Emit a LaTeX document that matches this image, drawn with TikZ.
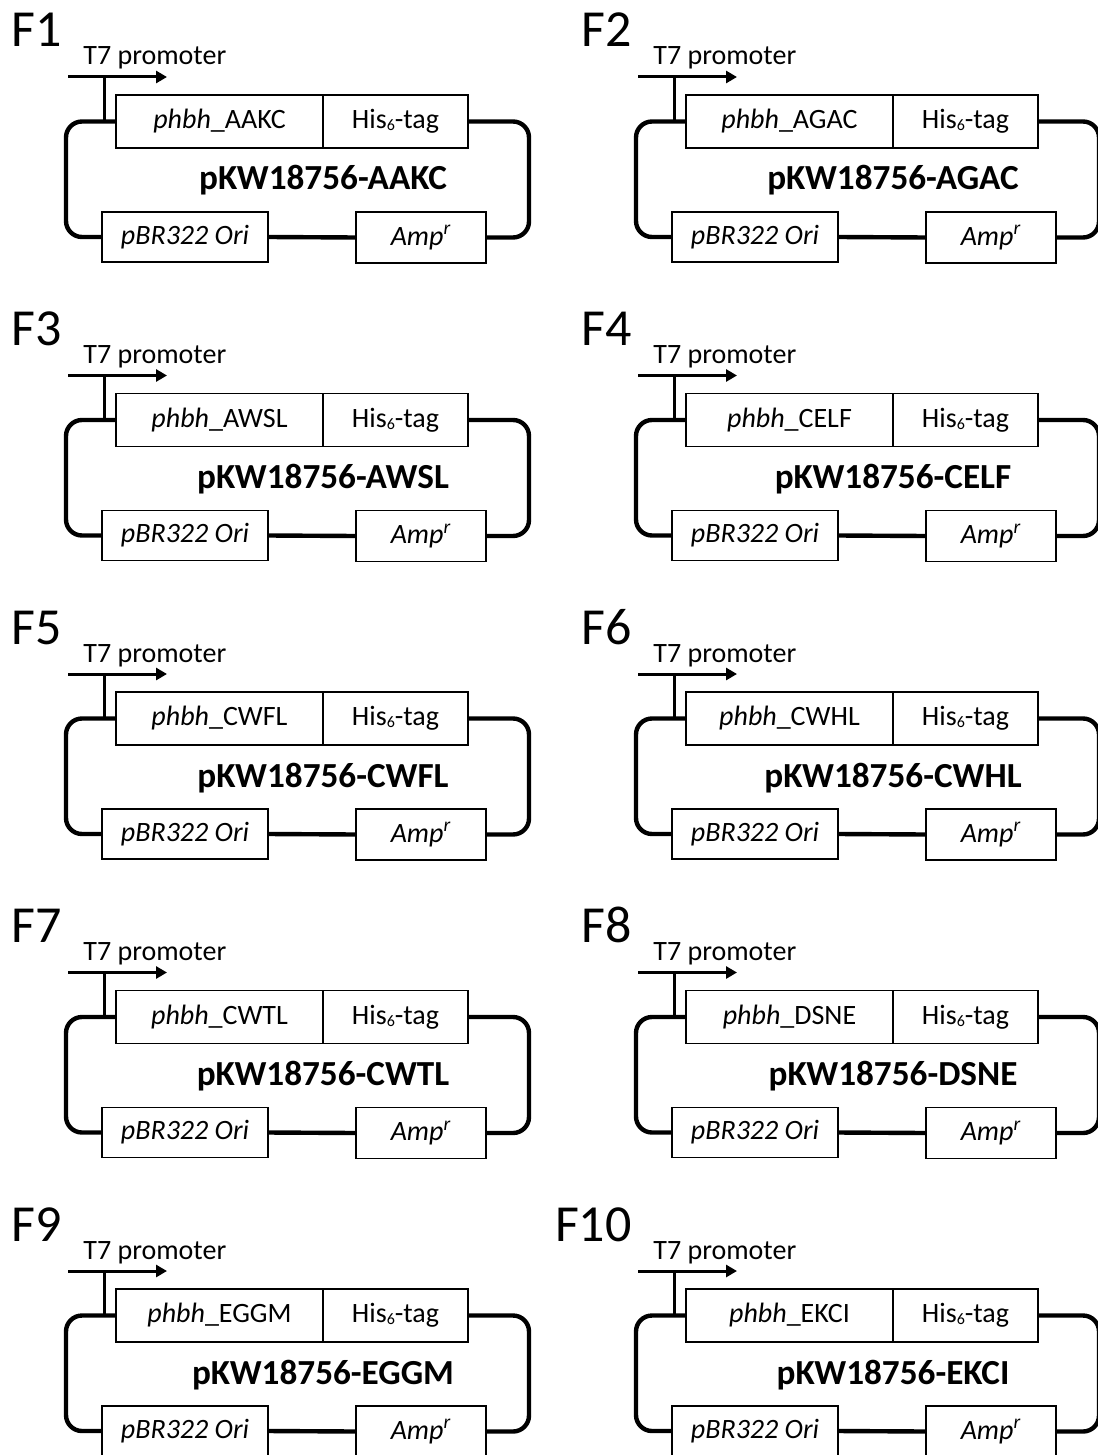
\documentclass[tikz,border=0pt]{standalone}
\usepackage{fontspec}
\setmainfont{Carlito}
\usepackage{tikz}
\usetikzlibrary{arrows.meta,positioning}

\begin{document}
\begin{tikzpicture}[
x=0.5pt, y=-0.5pt,
part/.style={draw=black, line width=0.75pt, fill=white, inner sep=0pt, outer sep=0pt, minimum height=26.5pt, font=\fontsize{14}{16}\selectfont},
backbone/.style={line width=2.2pt, rounded corners=8pt, draw=black},
promline/.style={line width=1.5pt},
promarrow/.style={line width=1.5pt, -{Triangle[length=5.5pt,width=6pt]}},
t7lbl/.style={inner sep=0pt, font=\fontsize{14}{16}\selectfont},
namelbl/.style={inner sep=0pt, font=\fontsize{17.6}{20}\selectfont\bfseries},
panellbl/.style={inner sep=0pt, font=\fontsize{26}{30}\selectfont}
]
\useasboundingbox[fill=white] (0,0) rectangle (1097,1455);
\foreach \n/\code in {1/AAKC,2/AGAC,3/AWSL,4/CELF,5/CWFL,6/CWHL,7/CWTL,8/DSNE,9/EGGM,10/EKCI}{
  \pgfmathsetmacro\dx{mod(\n-1,2)*570}
  \pgfmathsetmacro\dy{int((\n-1)/2)*298.5}
  \begin{scope}[shift={(\dx,\dy)}]
    % labels
    \node[panellbl, anchor=base east] (lbl\n) at (62,47) {F\n};
    \node[t7lbl, anchor=base west] (t7\n) at (83,65) {T7 promoter};
    % plasmid parts
    \node[part, minimum width=103.5pt] (gene\n) at (219.5,121.5) {\textit{phbh}\_\code};
    \node[part, minimum width=72.5pt, right=0pt of gene\n] (his\n) {His{\fontsize{8}{8}\selectfont\raisebox{-0.25ex}{6}}-tag};
    \node[part, minimum width=83pt, minimum height=25pt] (ori\n) at (185,237) {\textit{pBR322 Ori}};
    \node[part, minimum width=65pt, minimum height=25.5pt] (amp\n) at (421,237.5) {\textit{Amp\textsuperscript{r}}};
    \node[namelbl, anchor=base] (name\n) at (323,190) {pKW18756-\code};
    % backbone
    \draw[backbone] (gene\n.west) -- ++(-50,0) |- (ori\n.west);
    \draw[backbone] (his\n.east) -- ++(61,0) |- (amp\n.east);
    \draw[backbone] (ori\n.east) -- (amp\n.west);
    % promoter
    \coordinate (tss\n) at (104,77);
    \draw[promline] (gene\n.west -| tss\n) -- (tss\n);
    \draw[promarrow] ([xshift=-18pt]tss\n) -- ([xshift=31.5pt]tss\n);
  \end{scope}
}
\end{tikzpicture}
\end{document}
